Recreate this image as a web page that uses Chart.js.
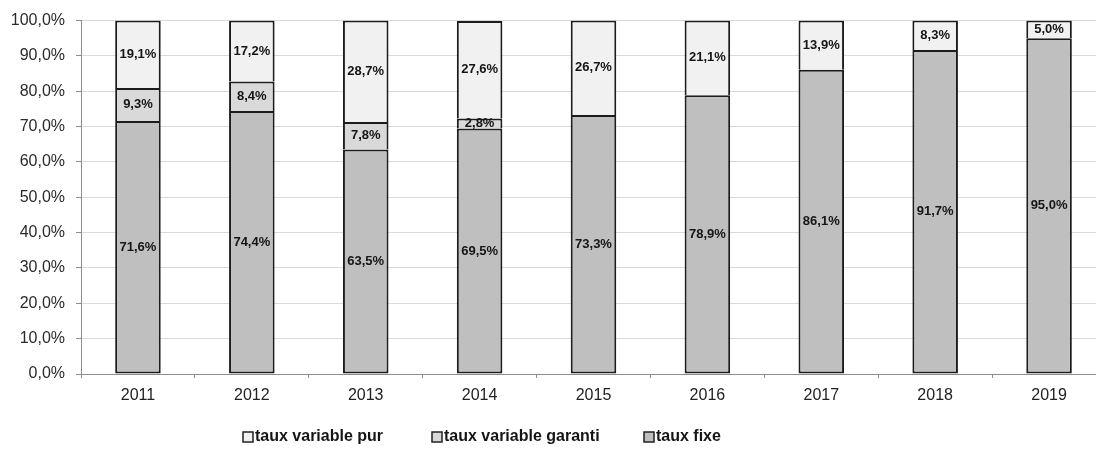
<!DOCTYPE html>
<html>
<head>
<meta charset="utf-8">
<script src="https://cdn.jsdelivr.net/npm/chart.js@4.4.1/dist/chart.umd.min.js"></script>
<style>
  html, body { margin: 0; padding: 0; background: #fff; overflow: hidden; }
  #wrap { position: relative; width: 1110px; height: 454px; }
</style>
</head>
<body>
<div id="wrap"><canvas id="chart"></canvas></div>
<script>
const years = ['2011', '2012', '2013', '2014', '2015', '2016', '2017', '2018', '2019'];
const tauxFixe = [71.6, 74.4, 63.5, 69.5, 73.3, 78.9, 86.1, 91.7, 95.0];
const tauxVariableGaranti = [9.3, 8.4, 7.8, 2.8, 0, 0, 0, 0, 0];
const tauxVariablePur = [19.1, 17.2, 28.7, 27.6, 26.7, 21.1, 13.9, 8.3, 5.0];
const yTicks = [0, 10, 20, 30, 40, 50, 60, 70, 80, 90, 100];

const fmt = v => v.toFixed(1).replace('.', ',') + '%';

// value labels in the middle of each segment
const segmentLabels = {
  id: 'segmentLabels',
  afterDatasetsDraw(chart) {
    const ctx = chart.ctx;
    ctx.save();
    ctx.font = 'bold 13px "Liberation Sans", Arial, sans-serif';
    ctx.fillStyle = '#151515';
    ctx.textAlign = 'center';
    ctx.textBaseline = 'middle';
    chart.data.datasets.forEach((ds, i) => {
      chart.getDatasetMeta(i).data.forEach((bar, j) => {
        const v = ds.data[j];
        if (!v) return;
        ctx.fillText(fmt(v), bar.x, (bar.y + bar.base) / 2);
      });
    });
    ctx.restore();
  }
};

// legend row under the axis
const legendRow = {
  id: 'legendRow',
  afterDraw(chart) {
    const ctx = chart.ctx;
    const order = [2, 1, 0];
    const xs = [243, 432, 644];
    const y = 437;
    ctx.save();
    ctx.font = 'bold 16px "Liberation Sans", Arial, sans-serif';
    ctx.textBaseline = 'middle';
    ctx.textAlign = 'left';
    order.forEach((di, k) => {
      const ds = chart.data.datasets[di];
      ctx.fillStyle = ds.backgroundColor;
      ctx.fillRect(xs[k], y - 5, 10, 10);
      ctx.strokeStyle = '#222';
      ctx.lineWidth = 1.5;
      ctx.strokeRect(xs[k], y - 5, 10, 10);
      ctx.fillStyle = '#151515';
      ctx.fillText(ds.label, xs[k] + 12, y);
    });
    ctx.restore();
  }
};

const barStyle = {
  borderColor: '#1c1c1c',
  borderWidth: 2,
  barPercentage: 0.4,
  categoryPercentage: 1.0
};

new Chart(document.getElementById('chart'), {
  type: 'bar',
  data: {
    labels: years,
    datasets: [
      Object.assign({ label: 'taux fixe', data: tauxFixe, backgroundColor: '#bfbfbf', borderSkipped: false }, barStyle),
      Object.assign({ label: 'taux variable garanti', data: tauxVariableGaranti, backgroundColor: '#d9d9d9', borderSkipped: 'start' }, barStyle),
      Object.assign({ label: 'taux variable pur', data: tauxVariablePur, backgroundColor: '#f1f1f1', borderSkipped: 'start' }, barStyle)
    ]
  },
  options: {
    responsive: true,
    maintainAspectRatio: false,
    animation: false,
    layout: { padding: { top: 19, right: 4, left: 0, bottom: 0 } },
    plugins: {
      legend: { display: false },
      tooltip: { enabled: false }
    },
    scales: {
      x: {
        stacked: true,
        grid: {
          offset: true,
          drawOnChartArea: false,
          drawTicks: true,
          tickLength: 4,
          tickColor: '#8c8c8c'
        },
        border: { color: '#8c8c8c', width: 1 },
        ticks: {
          color: '#222',
          font: { family: '"Liberation Sans", Arial, sans-serif', size: 16 },
          padding: 8,
          maxRotation: 0
        },
        afterFit(scale) { scale.height = 80; }
      },
      y: {
        stacked: true,
        min: 0,
        max: 100,
        afterBuildTicks(scale) { scale.ticks = yTicks.map(v => ({ value: v })); },
        grid: {
          color: '#d9d9d9',
          lineWidth: 1,
          drawTicks: true,
          tickLength: 5,
          tickColor: '#8c8c8c'
        },
        border: { color: '#8c8c8c', width: 1 },
        ticks: {
          color: '#2a2a2a',
          font: { family: '"Liberation Sans", Arial, sans-serif', size: 16 },
          padding: 11,
          callback: v => fmt(v)
        },
        afterFit(scale) { scale.width = 81; }
      }
    }
  },
  plugins: [segmentLabels, legendRow]
});
</script>
</body>
</html>
